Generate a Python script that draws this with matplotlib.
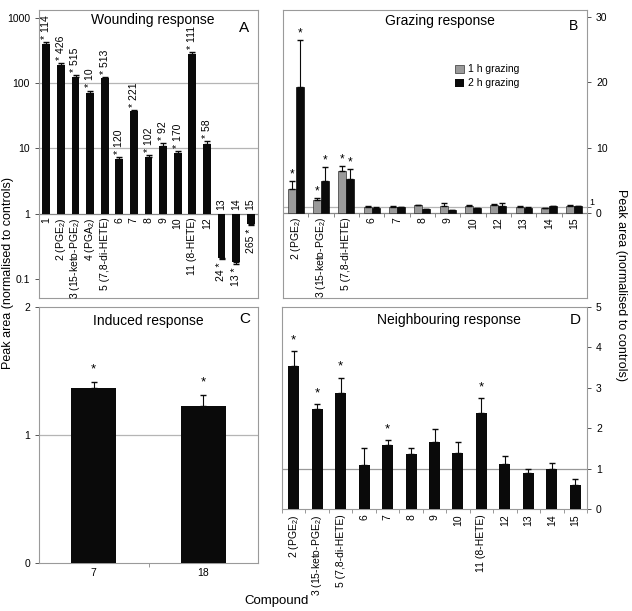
import numpy as np
import matplotlib
matplotlib.use('Agg')
from matplotlib import pyplot as plt
from matplotlib.patches import Patch

plt.rcParams['font.family'] = ['Liberation Sans', 'DejaVu Sans']
plt.rcParams['mathtext.default'] = 'regular'

# panel A - wounding response (log scale, bars from 1)
a_labels = ['1', '2 (PGE$_2$)', '3 (15-keto-PGE$_2$)', '4 (PGA$_2$)', '5 (7,8-di-HETE)',
            '6', '7', '8', '9', '10', '11 (8-HETE)', '12', '13', '14', '15']
a_values = [400, 190, 125, 70, 120, 6.8, 37, 7.3, 10.8, 8.5, 280, 11.5, 0.21, 0.18, 0.70]
a_err = [30, 12, 8, 7, 5, 0.6, 2, 0.6, 1.4, 0.7, 15, 1.3, 0.01, 0.01, 0.03]
a_n = ['114', '426', '515', '10', '513', '120', '221', '102', '92', '170', '111', '58', '24', '13', '265']

# panel B - grazing response
b_labels = ['2 (PGE$_2$)', '3 (15-keto-PGE$_2$)', '5 (7,8-di-HETE)',
            '6', '7', '8', '9', '10', '12', '13', '14', '15']
b_1h = [3.7, 2.0, 6.4, 0.93, 0.93, 1.2, 1.13, 1.03, 1.18, 1.0, 0.77, 1.13]
b_1h_err = [1.2, 0.35, 0.8, 0.1, 0.15, 0.1, 0.35, 0.2, 0.2, 0.05, 0.05, 0.05]
b_2h = [19.3, 4.9, 5.2, 0.82, 0.88, 0.6, 0.5, 0.77, 1.13, 0.82, 1.03, 1.03]
b_2h_err = [7.2, 2.1, 1.6, 0.15, 0.05, 0.05, 0.05, 0.05, 0.45, 0.05, 0.1, 0.05]
b_sig = [True, True, True] + [False] * 9

# panel C - induced response
c_labels = ['7', '18']
c_values = [1.365, 1.23]
c_err = [0.05, 0.08]

# panel D - neighbouring response
d_labels = ['2 (PGE$_2$)', '3 (15-keto-PGE$_2$)', '5 (7,8-di-HETE)', '6', '7', '8', '9',
            '10', '11 (8-HETE)', '12', '13', '14', '15']
d_values = [3.54, 2.48, 2.87, 1.10, 1.58, 1.36, 1.66, 1.39, 2.37, 1.11, 0.90, 0.98, 0.59]
d_err = [0.37, 0.11, 0.38, 0.42, 0.13, 0.16, 0.32, 0.27, 0.38, 0.20, 0.10, 0.16, 0.16]
d_sig = [True, True, True, False, True, False, False, False, True, False, False, False, False]

blk = '#0a0a0a'
gry = '#9a9a9a'
spc = '#9a9a9a'
gridc = '#b5b5b5'
fs_tick = 7.5
fs_title = 10

fig = plt.figure(figsize=(6.32, 6.11), dpi=100)
W, H = 632.0, 611.0


def box(x0, y0, x1, y1):
    return [x0 / W, 1 - y1 / H, (x1 - x0) / W, (y1 - y0) / H]


def style(ax):
    for s in ax.spines.values():
        s.set_color(spc)
        s.set_linewidth(0.8)
    ax.tick_params(colors='#555555', labelcolor='black', labelsize=fs_tick, length=3, width=0.7)


# ---- A ----
ax = fig.add_axes(box(39, 10, 258, 298))
style(ax)
x = np.arange(len(a_values))
va = np.array(a_values)
ax.bar(x, va - 1, bottom=1, width=0.53, color=blk, zorder=3)
for i, (v, e) in enumerate(zip(a_values, a_err)):
    if v >= 1:
        ax.errorbar(i, v, yerr=[[0], [e]], color=blk, capsize=2, lw=0.8, zorder=4)
        ax.text(i, (v + e) * 1.12, '* ' + a_n[i], rotation=90, ha='center', va='bottom', fontsize=fs_tick)
        ax.text(i, 0.88, a_labels[i], rotation=90, ha='center', va='top', fontsize=fs_tick)
    else:
        ax.errorbar(i, v, yerr=[[e], [0]], color=blk, capsize=2, lw=0.8, zorder=4)
        ax.text(i, (v - e) / 1.12, a_n[i] + ' *', rotation=90, ha='center', va='top', fontsize=fs_tick)
        ax.text(i, 1.12, a_labels[i], rotation=90, ha='center', va='bottom', fontsize=fs_tick)
ax.set_yscale('log')
ax.set_ylim(0.051, 1320)
ax.set_xlim(-0.5, len(a_values) - 0.5)
ax.set_yticks([0.1, 1, 10, 100, 1000], ['0.1', '1', '10', '100', '1000'])
ax.minorticks_off()
ax.set_xticks([])
for g in [10, 100]:
    ax.axhline(g, color=gridc, lw=0.9, zorder=1)
ax.axhline(1, color='#888888', lw=0.9, zorder=2)
fig.text(153 / W, 1 - 20 / H, 'Wounding response', ha='center', va='center', fontsize=fs_title)
fig.text(244 / W, 1 - 28 / H, 'A', ha='center', va='center', fontsize=fs_title + 1)

# ---- B ----
ax = fig.add_axes(box(283, 10, 587, 298))
style(ax)
x = np.arange(len(b_labels))
ax.bar(x - 0.16, b_1h, width=0.32, color=gry, edgecolor='#333333', lw=0.5, zorder=3)
ax.bar(x + 0.16, b_2h, width=0.32, color=blk, edgecolor=blk, lw=0.5, zorder=3)
ax.errorbar(x - 0.16, b_1h, yerr=[np.zeros(len(x)), b_1h_err], fmt='none', ecolor=blk,
            capsize=2, lw=0.8, zorder=4)
ax.errorbar(x + 0.16, b_2h, yerr=[np.zeros(len(x)), b_2h_err], fmt='none', ecolor=blk,
            capsize=2, lw=0.8, zorder=4)
for i in range(len(x)):
    ax.text(i, -0.6, b_labels[i], rotation=90, ha='center', va='top', fontsize=fs_tick)
    if b_sig[i]:
        ax.text(i - 0.16, b_1h[i] + b_1h_err[i] + 0.1, '*', ha='center', va='bottom', fontsize=fs_tick + 1)
        ax.text(i + 0.16, b_2h[i] + b_2h_err[i] + 0.1, '*', ha='center', va='bottom', fontsize=fs_tick + 1)
ax.vlines(np.arange(len(x) + 1) - 0.5, -0.6, 0, color='#888888', lw=0.7)
ax.axhline(0, color='#888888', lw=0.9, zorder=2)
ax.axhline(1, color=gridc, lw=0.9, zorder=1)
ax.set_xlim(-0.5, len(x) - 0.5)
ax.set_ylim(-13.0, 31.1)
ax.yaxis.tick_right()
ax.set_yticks([0, 10, 20, 30], ['0', '10', '20', '30'])
ax.set_yticks([1], minor=True)
ax.tick_params(axis='y', which='minor', length=3, colors='#555555')
# the small "1" label sits just above the "0"
ax.annotate('1', xy=(1, 1), xycoords=('axes fraction', 'data'), xytext=(2, 0),
            textcoords='offset points', ha='left', va='bottom', fontsize=6.5)
ax.set_xticks([])
ax.legend(handles=[Patch(facecolor=gry, edgecolor='#333333', lw=0.5, label='1 h grazing'),
                   Patch(facecolor=blk, label='2 h grazing')],
          loc='upper left', bbox_to_anchor=(0.55, 0.83), frameon=False, fontsize=fs_tick,
          handlelength=0.8, handleheight=0.8, handletextpad=0.4, labelspacing=0.4, borderpad=0)
fig.text(440 / W, 1 - 21 / H, 'Grazing response', ha='center', va='center', fontsize=fs_title)
fig.text(573 / W, 1 - 26 / H, 'B', ha='center', va='center', fontsize=fs_title)

# ---- C ----
ax = fig.add_axes(box(39, 307, 258, 563))
style(ax)
x = np.arange(len(c_labels))
ax.bar(x, c_values, width=0.41, color=blk, zorder=3)
ax.errorbar(x, c_values, yerr=[np.zeros(len(x)), c_err], fmt='none', ecolor=blk,
            capsize=2, lw=0.8, zorder=4)
for i in range(len(x)):
    ax.text(i, c_values[i] + c_err[i] + 0.05, '*', ha='center', va='bottom', fontsize=fs_tick + 2)
ax.axhline(1, color=gridc, lw=0.9, zorder=1)
ax.set_xlim(-0.5, 1.5)
ax.set_ylim(0, 2)
ax.set_yticks([0, 1, 2], ['0', '1', '2'])
ax.set_xticks(x, c_labels)
ax.set_xticks([0.5], minor=True)
ax.tick_params(axis='x', which='major', length=0)
ax.tick_params(axis='x', which='minor', length=3, colors='#888888')
fig.text(148 / W, 1 - 321 / H, 'Induced response', ha='center', va='center', fontsize=fs_title)
fig.text(245 / W, 1 - 319 / H, 'C', ha='center', va='center', fontsize=fs_title + 1)

# ---- D ----
ax = fig.add_axes(box(282, 307, 587, 509))
style(ax)
x = np.arange(len(d_labels))
ax.bar(x, d_values, width=0.47, color=blk, zorder=3)
ax.errorbar(x, d_values, yerr=[np.zeros(len(x)), d_err], fmt='none', ecolor=blk,
            capsize=2, lw=0.8, zorder=4)
for i in range(len(x)):
    if d_sig[i]:
        ax.text(i, d_values[i] + d_err[i] + 0.12, '*', ha='center', va='bottom', fontsize=fs_tick + 2)
ax.axhline(1, color='#999999', lw=0.9, zorder=1)
ax.set_xlim(-0.5, len(x) - 0.5)
ax.set_ylim(0, 5)
ax.yaxis.tick_right()
ax.set_yticks(range(6))
ax.set_xticks(x, d_labels, rotation=90)
ax.set_xticks(np.arange(len(x) + 1) - 0.5, minor=True)
ax.tick_params(axis='x', which='major', length=0, pad=4)
ax.tick_params(axis='x', which='minor', length=3, colors='#888888')
fig.text(449 / W, 1 - 320 / H, 'Neighbouring response', ha='center', va='center', fontsize=fs_title)
fig.text(575 / W, 1 - 320 / H, 'D', ha='center', va='center', fontsize=fs_title + 1)

fig.text(8 / W, 1 - 273 / H, 'Peak area (normalised to controls)', rotation=90,
         ha='center', va='center', fontsize=9)
fig.text(621 / W, 1 - 285 / H, 'Peak area (normalised to controls)', rotation=-90,
         ha='center', va='center', fontsize=9)
fig.text(277 / W, 1 - 601 / H, 'Compound', ha='center', va='center', fontsize=9.5)

fig.savefig('out.png', dpi=100)
